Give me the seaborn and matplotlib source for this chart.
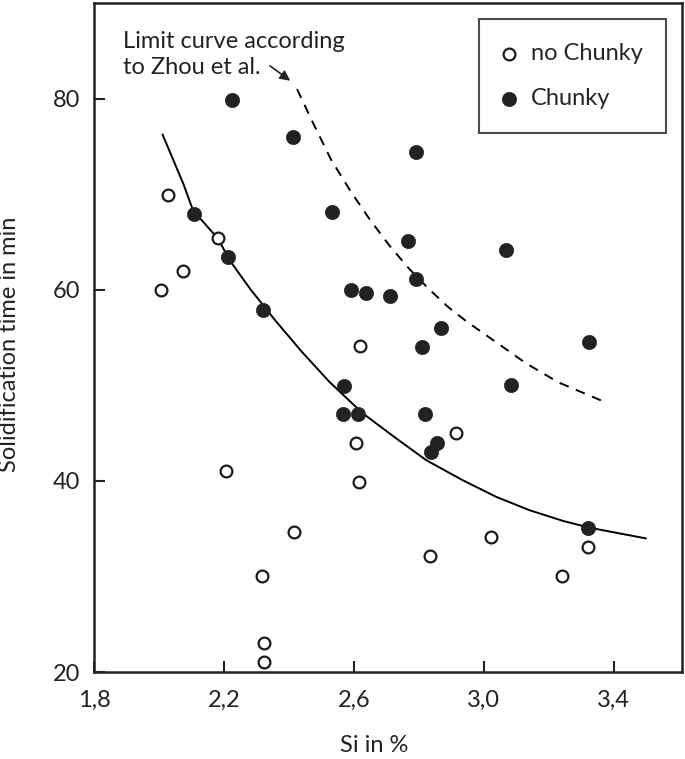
import pandas as pd
import matplotlib.pyplot as plt
import seaborn as sns

# Messpunkte: Si-Gehalt (%) und Erstarrungszeit (min)
si_no_chunky = [2.028, 2.007, 2.075, 2.182, 2.206, 2.316, 2.323, 2.323, 2.416,
                2.619, 2.606, 2.616, 2.833, 2.913, 3.023, 3.240, 3.320]
t_no_chunky = [69.9, 60.0, 62.0, 65.4, 41.0, 30.0, 23.0, 21.0, 34.7,
               54.1, 44.0, 39.9, 32.1, 45.0, 34.1, 30.0, 33.1]

si_chunky = [2.225, 2.413, 2.533, 2.107, 2.211, 2.320, 2.590, 2.638, 2.711,
             2.792, 2.768, 3.067, 2.792, 2.867, 2.809, 3.324, 2.570, 3.084,
             2.567, 2.612, 2.818, 2.855, 2.836, 3.320]
t_chunky = [79.9, 76.0, 68.1, 67.9, 63.4, 57.9, 60.0, 59.7, 59.3,
            74.4, 65.1, 64.2, 61.1, 56.0, 54.0, 54.5, 49.9, 50.0,
            47.0, 47.0, 47.0, 44.0, 43.0, 35.1]

# Ausgleichskurve
si_fit = [2.011, 2.075, 2.105, 2.182, 2.218, 2.280, 2.356, 2.440, 2.525,
          2.628, 2.731, 2.823, 2.935, 3.038, 3.140, 3.243, 3.321, 3.499]
t_fit = [76.25, 71.09, 68.30, 65.34, 63.07, 60.12, 56.87, 53.5, 50.35,
         47.05, 44.43, 42.16, 40.07, 38.33, 36.94, 35.82, 35.13, 33.98]

# Grenzkurve nach Zhou et al.
si_zhou = [2.425, 2.475, 2.530, 2.590, 2.650, 2.710, 2.770, 2.830, 2.890,
           2.950, 3.030, 3.130, 3.230, 3.376]
t_zhou = [81.0, 77.4, 73.6, 70.3, 67.3, 64.6, 62.2, 60.1, 58.2,
          56.6, 54.7, 52.3, 50.3, 48.2]

x_ticks = [1.8, 2.2, 2.6, 3.0, 3.4]
x_ticklabels = ['1,8', '2,2', '2,6', '3,0', '3,4']
y_ticks = [20, 40, 60, 80]

df_no = pd.DataFrame({'Si': si_no_chunky, 't': t_no_chunky})
df_ch = pd.DataFrame({'Si': si_chunky, 't': t_chunky})
df_fit = pd.DataFrame({'Si': si_fit, 't': t_fit})
df_zhou = pd.DataFrame({'Si': si_zhou, 't': t_zhou})

sns.set_style('ticks')
plt.rcParams['font.family'] = ['Lato', 'DejaVu Sans']

fs = 17
fig = plt.figure(figsize=(6.85, 7.59), dpi=100)
ax = fig.add_axes([0.1372, 0.1146, 0.8584, 0.8814])

sns.lineplot(data=df_fit, x='Si', y='t', ax=ax, color='black', lw=1.4,
             sort=False, estimator=None)
sns.lineplot(data=df_zhou, x='Si', y='t', ax=ax, color='black', lw=1.4,
             sort=False, estimator=None, linestyle=(0, (5, 4)))

sns.scatterplot(data=df_no, x='Si', y='t', ax=ax, s=72, marker='o',
                facecolor='white', edgecolor='#1a1a1a', linewidth=1.6,
                label='no Chunky', zorder=3)
sns.scatterplot(data=df_ch, x='Si', y='t', ax=ax, s=105, marker='o',
                color='#222222', edgecolor='#222222', linewidth=0.5,
                label='Chunky', zorder=3)

ax.set_xlim(1.8, 3.61)
ax.set_ylim(20, 90)
ax.set_xticks(x_ticks)
ax.set_xticklabels(x_ticklabels)
ax.set_yticks(y_ticks)
ax.tick_params(direction='in', length=8, width=1.5, labelsize=fs,
               colors='#222222')
ax.tick_params(axis='x', pad=13)
ax.tick_params(axis='y', pad=10)
for sp in ax.spines.values():
    sp.set_linewidth(1.8)
    sp.set_color('#222222')

ax.set_xlabel('Si in %', fontsize=fs, color='#222222')
ax.set_ylabel('Solidification time in min', fontsize=fs, color='#222222')
ax.xaxis.set_label_coords(0.476, -0.094)
ax.yaxis.set_label_coords(-0.125, 0.49)

ax.text(1.889, 87.1, 'Limit curve according\nto Zhou et al.', fontsize=fs,
        va='top', ha='left', linespacing=1.3, color='#222222')
ax.annotate('', xy=(2.411, 81.7), xytext=(2.335, 83.6),
            arrowprops=dict(arrowstyle='-|>', color='#222222', lw=1.2,
                            mutation_scale=15))

leg = ax.legend(loc='upper right', bbox_to_anchor=(0.973, 0.976),
                fontsize=fs, frameon=True, fancybox=False,
                borderpad=1.0, labelspacing=1.05, handletextpad=0.6,
                handlelength=0.6, borderaxespad=0)
leg.get_frame().set_edgecolor('#222222')
leg.get_frame().set_linewidth(1.5)

plt.savefig('out.png', dpi=100)
